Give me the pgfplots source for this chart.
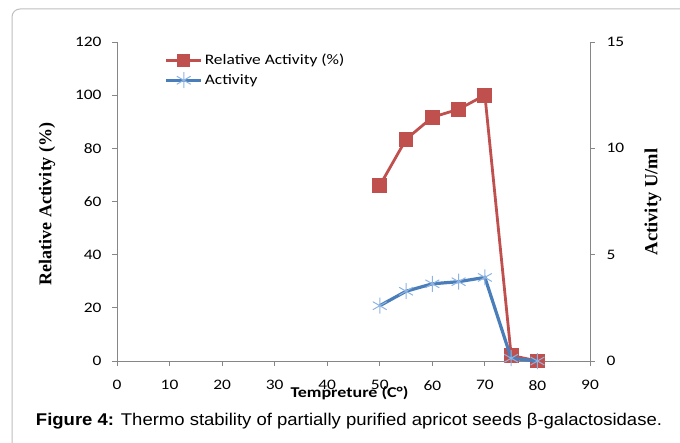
\documentclass[border=0pt]{standalone}
\usepackage{fontspec}
\setmainfont{Carlito}[FakeStretch=1.2]
\newfontfamily\serifb{Liberation Serif}
\newfontfamily\capfont{Liberation Sans}[FakeStretch=1.088]
\usepackage{pgfplots}
\pgfplotsset{compat=1.18}
\definecolor{exred}{HTML}{C0504D}
\definecolor{exblue}{HTML}{4A7EBB}
\definecolor{exlight}{HTML}{8DB3E2}
\definecolor{axgray}{HTML}{868686}
\pgfplotsset{
  common/.style={
    scale only axis, width=473bp, height=319bp,
    at={(117bp,-361bp)}, anchor=south west,
    xmin=0, xmax=90, clip=false,
    axis line style={axgray, line width=0.8bp},
    tick style={axgray, line width=0.8bp},
    major tick length=5bp, tick align=outside,
    ticklabel style={font=\fontsize{14.5bp}{16bp}\selectfont},
    /pgf/number format/assume math mode=true,
    legend image code/.code={\draw[mark repeat=2,mark phase=2,##1] plot coordinates {(0bp,0bp)(17.5bp,0bp)(35bp,0bp)};},
  }
}
\begin{document}
\begin{tikzpicture}[x=1bp,y=1bp]
\path[use as bounding box] (0,0) rectangle (680,-443);
\draw[black!25, rounded corners=8bp, line width=1bp] (12,-480) -- (12,-9) -- (720,-9);

\begin{axis}[common,
  axis x line*=bottom, axis y line*=left,
  xtick distance=10,
  xticklabel style={yshift=-11bp},
  yticklabel style={xshift=-7bp},
  ymin=0, ymax=120, ytick distance=20,
]
\addplot[exred, line width=2.8bp, mark=square*, mark size=6bp, mark options={solid}]
  coordinates {(50,66) (55,83.4) (60,91.7) (65,94.7) (70,100) (75,2.1) (80,0)};
\end{axis}

\begin{axis}[common,
  axis y line*=right, axis x line=none,
  ymin=0, ymax=15, ytick={0,5,10,15},
  yticklabel style={xshift=8bp},
  legend style={at={(0.094,0.975)}, anchor=north west, draw=none, fill=none,
    font=\fontsize{14.5bp}{16bp}\selectfont, row sep=4bp},
  legend cell align=left,
]
\addlegendimage{exred, line width=2.8bp, mark=square*, mark size=5bp, mark options={solid}}
\addlegendentry{Relative Activity (\%)}
\addplot[exblue, line width=3.2bp, mark=asterisk, mark size=8bp, mark options={exlight, line width=1bp}]
  coordinates {(50,2.6) (55,3.28) (60,3.63) (65,3.73) (70,3.93) (75,0.13) (80,0)};
\addlegendentry{Activity}
\end{axis}

\node[anchor=base, font=\bfseries\fontsize{15bp}{18bp}\selectfont] at (349.5,-397) {Tempreture (C°)};
\node[rotate=90, font=\serifb\bfseries\fontsize{18bp}{20bp}\selectfont] at (47,-204) {Relative Activity (\%)};
\node[rotate=90, font=\serifb\bfseries\fontsize{18.5bp}{20bp}\selectfont] at (653,-202) {Activity U/ml};
\node[anchor=base, font=\capfont\fontsize{17bp}{20bp}\selectfont] at (349,-425) {\textbf{Figure 4:} Thermo stability of partially purified apricot seeds β-galactosidase.};
\end{tikzpicture}
\end{document}
